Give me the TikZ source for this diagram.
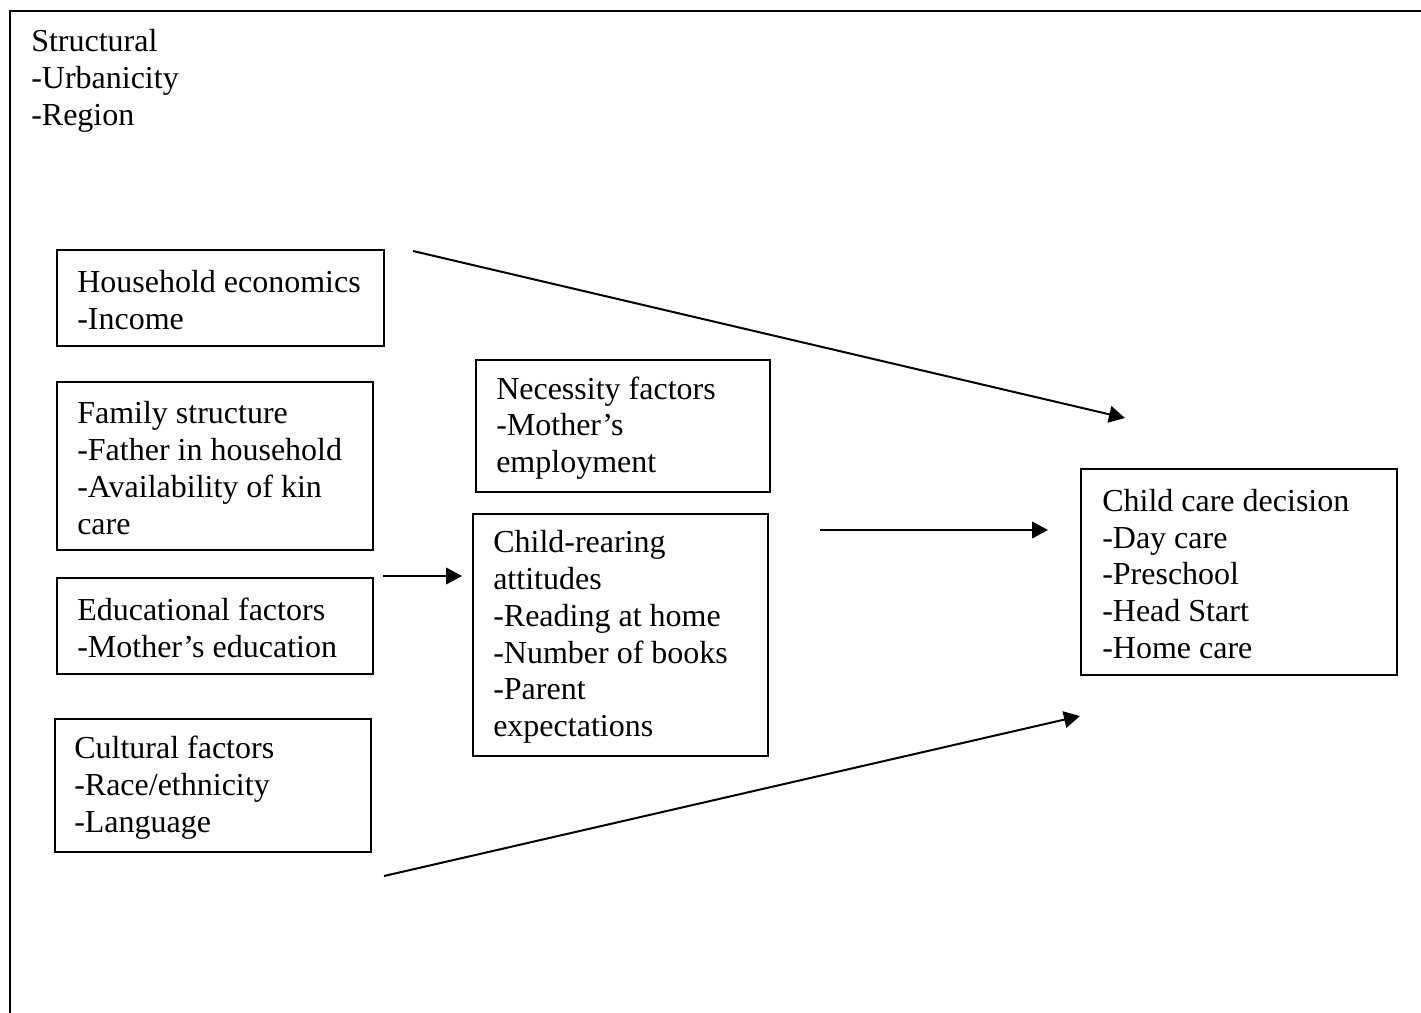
\documentclass[tikz,border=0pt]{standalone}
\usepackage{fontspec}
\setmainfont{Liberation Serif}
\usetikzlibrary{arrows.meta,calc,fit}
\begin{document}
\begin{tikzpicture}[x=0.75pt,y=-0.75pt,
  box/.style={draw, line width=1.5pt, inner sep=0pt},
  txt/.style={anchor=west, align=left, inner sep=0pt, font=\fontsize{24}{27.6}\selectfont},
  arr/.style={line width=1.5pt, -{Triangle[length=12pt,width=12.5pt]}}]
\useasboundingbox (0,0) rectangle (1421,1013);
\clip (0,0) rectangle (1421,1013);
% outer frame (cut off at right and bottom)
\draw[line width=2pt] (10,1040) -- (10,11) -- (1440,11);
\node[txt] (struct) at (31,81) {Structural\\-Urbanicity\\-Region};

% boxes
\node[box, fit={(57,250) (384,346)}] (hh) {};
\node[txt] (hhT) at ($(hh.west)+(21,2)$) {Household economics\\-Income};

\node[box, fit={(57,382) (373,550)}] (fam) {};
\node[txt] (famT) at ($(fam.west)+(21,2)$) {Family structure\\-Father in household\\-Availability of kin\\care};

\node[box, fit={(57,578) (373,674)}] (edu) {};
\node[txt] (eduT) at ($(edu.west)+(21,2)$) {Educational factors\\-Mother’s education};

\node[box, fit={(55,719) (371,852)}] (cul) {};
\node[txt] (culT) at ($(cul.west)+(20,2)$) {Cultural factors\\-Race/ethnicity\\-Language};

\node[box, fit={(476,360) (770,492)}] (nec) {};
\node[txt] (necT) at ($(nec.west)+(21,2)$) {Necessity factors\\-Mother’s\\employment};

\node[box, fit={(473,514) (768,756)}] (cr) {};
\node[txt] (crT) at ($(cr.west)+(21,2)$) {Child-rearing\\attitudes\\-Reading at home\\-Number of books\\-Parent\\expectations};

\node[box, fit={(1081,469) (1397,675)}] (cc) {};
\node[txt] (ccT) at ($(cc.west)+(22,2)$) {Child care decision\\-Day care\\-Preschool\\-Head Start\\-Home care};

% arrow end points
\coordinate (a1s) at (413,251);
\coordinate (a1e) at (1125,418);
\coordinate (a2s) at (383,576);
\coordinate (a2e) at (462,576);
\coordinate (a3s) at (820,530);
\coordinate (a3e) at (1048,530);
\coordinate (a4s) at (384,876);
\coordinate (a4e) at (1080,716);

\draw[arr] (a1s) -- (a1e);
\draw[arr] (a2s) -- (a2e);
\draw[arr] (a3s) -- (a3e);
\draw[arr] (a4s) -- (a4e);
\end{tikzpicture}
\end{document}
